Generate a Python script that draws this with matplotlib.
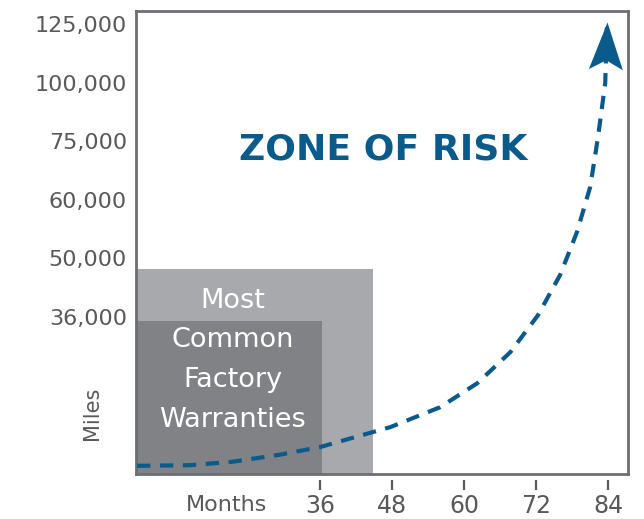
import matplotlib.pyplot as plt
from matplotlib.markers import MarkerStyle
from matplotlib.path import Path
from matplotlib.patches import Rectangle
from matplotlib.transforms import Affine2D

plt.rcParams['font.family'] = ['DejaVu Sans']

# 数据
mile_labels = ['36,000', '50,000', '60,000', '75,000', '100,000', '125,000']
mile_levels = [0, 1, 2, 3, 4, 5]
month_ticks = [36, 48, 60, 72, 84]

# 风险曲线 (月份, 里程等级)
curve_months = [5.5, 14.3, 21.5, 29.3, 36.0, 41.5, 47.7, 56.0, 62.2, 67.7,
                72.3, 76.0, 78.8, 81.0, 82.3, 83.5, 83.8]
curve_levels = [-2.54, -2.53, -2.47, -2.35, -2.22, -2.06, -1.88, -1.54, -1.13,
                -0.60, 0.03, 0.72, 1.45, 2.22, 3.07, 3.99, 5.03]

# 保修范围 (月份上限, 里程等级上限)
light_box = (44.8, 0.82)
dark_box = (36.3, -0.07)

x_min, x_max = 5.33, 87.3
y_min, y_max = -2.68, 5.22

gray_txt = '#58595b'
blue = '#0b5a8c'

fig = plt.figure(figsize=(6.44, 5.19), dpi=100)
ax = fig.add_axes([0.2112, 0.0867, 0.764, 0.892])
ax.set_xlim(x_min, x_max)
ax.set_ylim(y_min, y_max)

# 保修区域
ax.add_patch(Rectangle((x_min, y_min), light_box[0] - x_min, light_box[1] - y_min,
                       facecolor='#a7a9ac', edgecolor='none', zorder=1))
ax.add_patch(Rectangle((x_min, y_min), dark_box[0] - x_min, dark_box[1] - y_min,
                       facecolor='#808285', edgecolor='none', zorder=2))
ax.text(0.197, 0.246, 'Most\nCommon\nFactory\nWarranties', transform=ax.transAxes,
        ha='center', va='center', color='white', fontsize=19.5, linespacing=1.68,
        zorder=3)

# 曲线和箭头
ax.plot(curve_months, curve_levels, color=blue, lw=3, dashes=(3.2, 2.3),
        solid_capstyle='butt', zorder=4)
head = Path([(0, 0), (0.36, -1), (0, -0.8), (-0.36, -1), (0, 0)],
            [Path.MOVETO, Path.LINETO, Path.LINETO, Path.LINETO, Path.CLOSEPOLY])
ax.plot(curve_months[-1:], curve_levels[-1:], linestyle='none',
        marker=MarkerStyle(head, transform=Affine2D().rotate_deg(-2)),
        markersize=68, color=blue, markeredgewidth=0, zorder=5)

ax.text(0.502, 0.70, 'ZONE OF RISK', transform=ax.transAxes, ha='center',
        va='center', color=blue, fontsize=26, fontweight='bold')

# 坐标轴
for s in ax.spines.values():
    s.set_color('#6d6e71')
    s.set_linewidth(2)
ax.set_xticks([])
ax.set_yticks(mile_levels)
ax.set_yticklabels(mile_labels)
ax.tick_params(axis='y', length=0, pad=6.5, labelsize=16, labelcolor=gray_txt)

sec = ax.secondary_xaxis(-0.013)
sec.spines['bottom'].set_visible(False)
sec.set_xticks(month_ticks)
sec.tick_params(axis='x', direction='out', length=7, width=1.6, color=gray_txt,
                labelsize=17, labelcolor=gray_txt, pad=3)

ax.text(0.185, -0.067, 'Months', transform=ax.transAxes, ha='center', va='center',
        fontsize=16, color=gray_txt)
ax.text(-0.089, 0.132, 'Miles', transform=ax.transAxes, ha='center', va='center',
        rotation=90, fontsize=15, color=gray_txt)

fig.savefig('out.png', dpi=100)
